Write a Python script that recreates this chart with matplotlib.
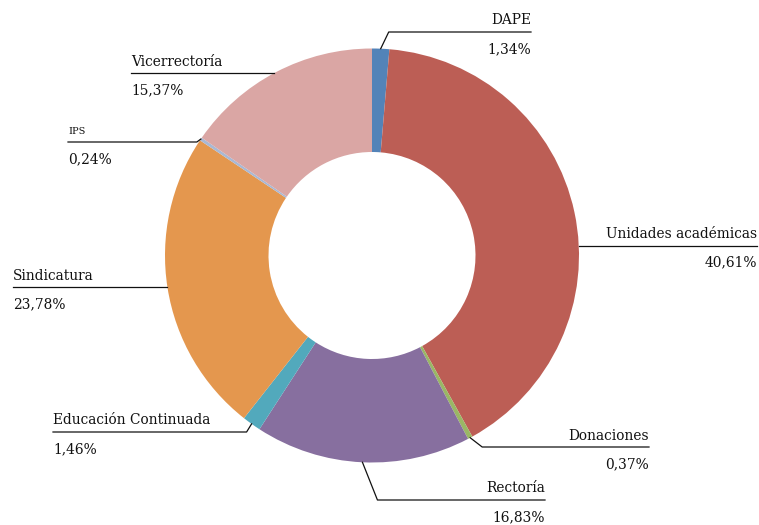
import matplotlib
matplotlib.use("Agg")
import matplotlib.pyplot as plt
import numpy as np

# data, clockwise from 12 o'clock
labels = ["DAPE", "Unidades académicas", "Donaciones", "Rectoría",
          "Educación Continuada", "Sindicatura", "IPS", "Vicerrectoría"]
values = [1.34, 40.61, 0.37, 16.83, 1.46, 23.78, 0.24, 15.37]
colors = ["#5383B8", "#BC5E55", "#9AB765", "#876F9F",
          "#52A9BC", "#E4974E", "#A8B8D4", "#DAA6A4"]

# label layout in pixels (y from top): line y, far end x of line, side, elbow dx
# elbow dx None -> line runs straight to the ring edge
layout = {
    "DAPE":                 (32, 531, "right", 8),
    "Unidades académicas":  (245.5, 757, "right", None),
    "Donaciones":           (447, 649, "right", 12),
    "Rectoría":             (500, 545, "right", 15),
    "Educación Continuada": (432, 53, "left", -5),
    "Sindicatura":          (287, 13, "left", None),
    "IPS":                  (142, 68, "left", -4),
    "Vicerrectoría":        (73, 131, "left", None),
}

W, H = 759, 525
cx, cy, R, r_in = 372, H - 255.5, 207, 103.5

plt.rcParams['font.family'] = ['DejaVu Serif']
fig = plt.figure(figsize=(W / 100, H / 100), dpi=100)
ax = fig.add_axes([0, 0, 1, 1])

ax.pie(values, colors=colors, startangle=90, counterclock=False,
       center=(cx, cy), radius=R,
       wedgeprops=dict(width=R - r_in, linewidth=0))
ax.set_xlim(0, W)
ax.set_ylim(0, H)
ax.set_aspect("equal")
ax.axis("off")

total = sum(values)
start = 90.0
for lab, v in zip(labels, values):
    span = v / total * 360
    mid = np.deg2rad(start - span / 2)
    start -= span
    line_y, end_x, side, edx = layout[lab]
    ly = H - line_y
    if edx is None:
        # straight line meeting the outer ring
        dx = np.sqrt(R ** 2 - (ly - cy) ** 2)
        ax_x = cx + dx if side == "right" else cx - dx
        pts = [(ax_x, ly), (end_x, ly)]
    else:
        px, py = cx + R * np.cos(mid), cy + R * np.sin(mid)
        pts = [(px, py), (px + edx, ly), (end_x, ly)]
    xs, ys = zip(*pts)
    ax.plot(xs, ys, color="#111111", lw=0.9)
    ha = "right" if side == "right" else "left"
    fs = 7 if lab == "IPS" else 9.9
    ax.text(end_x, ly + 7.5, lab, ha=ha, va="baseline", fontsize=fs, color="#111111")
    pct = f"{v:.2f}".replace(".", ",") + "%"
    ax.text(end_x, ly - 21, pct, ha=ha, va="baseline", fontsize=9.9, color="#111111")

fig.savefig("out.png", dpi=100)
